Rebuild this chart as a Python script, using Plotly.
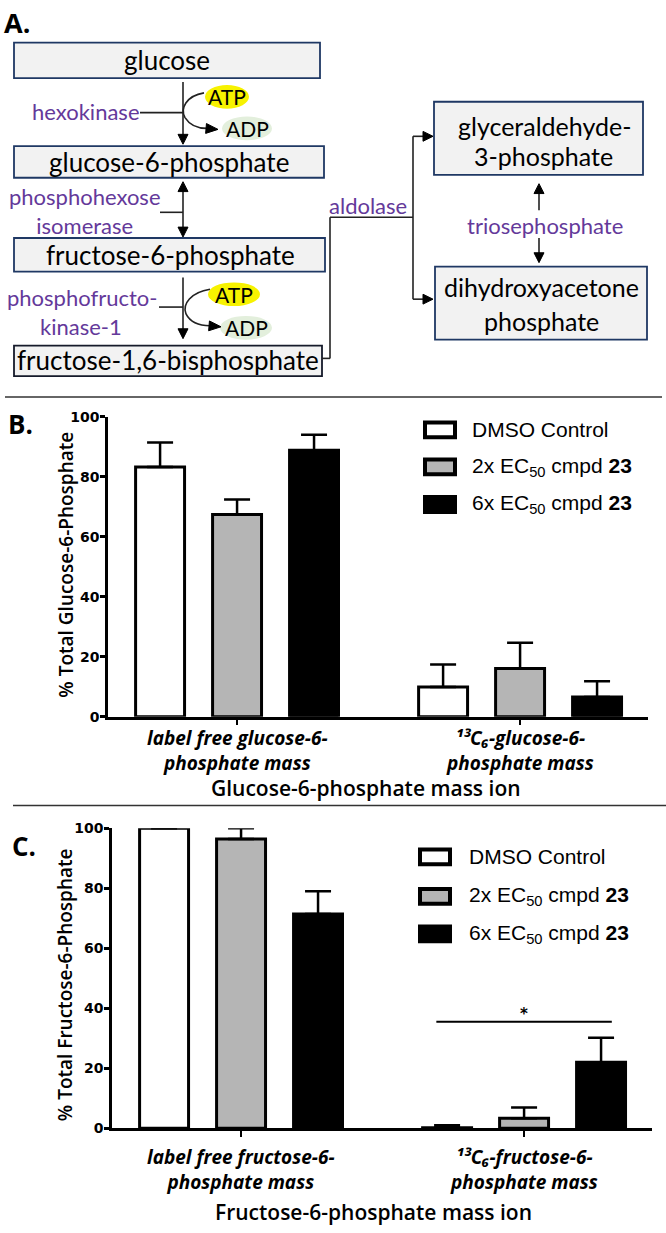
import math
import plotly.graph_objects as go

W, H = 666, 1233

# ---------------- data ----------------
series_names = ["DMSO Control", "2x EC50 cmpd 23", "6x EC50 cmpd 23"]
legend_text = ["DMSO Control",
               "2x EC<sub>50</sub> cmpd <b>23</b>",
               "6x EC<sub>50</sub> cmpd <b>23</b>"]
series_fill = ["#ffffff", "#b5b5b5", "#000000"]

mass_ions = ["label free", "13C6"]
g6p_labels = ["<b><i>label free glucose-6-<br>phosphate mass</i></b>",
              "<b><i>¹³C₆-glucose-6-<br>phosphate mass</i></b>"]
f6p_labels = ["<b><i>label free fructose-6-<br>phosphate mass</i></b>",
              "<b><i>¹³C₆-fructose-6-<br>phosphate mass</i></b>"]

g6p_dmso = [83.2, 9.9]
g6p_dmso_err = [8.2, 7.5]
g6p_2x = [67.4, 16.1]
g6p_2x_err = [5.0, 8.5]
g6p_6x = [88.8, 6.6]
g6p_6x_err = [5.2, 5.2]

f6p_dmso = [100.0, 0.2]
f6p_dmso_err = [0.0, 0.8]
f6p_2x = [96.4, 3.3]
f6p_2x_err = [3.6, 3.6]
f6p_6x = [71.4, 22.0]
f6p_6x_err = [7.6, 8.2]

y_ticks = [0, 20, 40, 60, 80, 100]
sig_level = 35.5
sig_text = "*"

g6p_ytitle = "% Total Glucose-6-Phosphate"
f6p_ytitle = "% Total Fructose-6-Phosphate"
g6p_xtitle = "Glucose-6-phosphate mass ion"
f6p_xtitle = "Fructose-6-phosphate mass ion"

# ---------------- figure ----------------
fig = go.Figure()

# invisible anchor trace for the pixel-space (diagram) axes
fig.add_trace(go.Scatter(x=[0], y=[0], mode="markers", marker=dict(opacity=0),
                         hoverinfo="skip", showlegend=False, xaxis="x", yaxis="y"))


def add_bars(vals_list, errs_list, xa, ya):
    for name, fill, vals, errs in zip(series_names, series_fill, vals_list, errs_list):
        fig.add_trace(go.Bar(
            x=mass_ions, y=vals, name=name,
            marker=dict(color=fill, line=dict(color="black", width=3)),
            error_y=dict(type="data", array=errs, arrayminus=[0] * len(errs),
                         symmetric=False, color="black", thickness=2.5, width=13),
            xaxis=xa, yaxis=ya, showlegend=False, cliponaxis=False))


add_bars([g6p_dmso, g6p_2x, g6p_6x], [g6p_dmso_err, g6p_2x_err, g6p_6x_err], "x2", "y2")
add_bars([f6p_dmso, f6p_2x, f6p_6x], [f6p_dmso_err, f6p_2x_err, f6p_6x_err], "x3", "y3")

shapes = []
annotations = []
LINE = "#222222"
PURPLE = "#64399a"
BOXLINE = "#1f3864"
DIAG_FONT = "Lato"
CHART_FONT = "Open Sans"
ARIAL = "Liberation Sans, Arial, sans-serif"


def seg(x0, y0, x1, y1, w=1.6, c=LINE):
    shapes.append(dict(type="line", xref="x", yref="y", x0=x0, y0=y0, x1=x1, y1=y1,
                       line=dict(color=c, width=w)))


def head(tx, ty, dx, dy, L=10, hw=5, c="black"):
    n = math.hypot(dx, dy)
    ux, uy = dx / n, dy / n
    bx, by = tx - ux * L, ty - uy * L
    px, py = -uy, ux
    path = (f"M {tx},{ty} L {bx + px * hw},{by + py * hw} "
            f"L {bx - px * hw},{by - py * hw} Z")
    shapes.append(dict(type="path", xref="x", yref="y", path=path,
                       fillcolor=c, line=dict(color=c, width=1)))


def curve(path, w=1.6):
    shapes.append(dict(type="path", xref="x", yref="y", path=path,
                       fillcolor="rgba(0,0,0,0)", line=dict(color=LINE, width=w)))


def box(x0, y0, x1, y1, bc=BOXLINE):
    shapes.append(dict(type="rect", xref="x", yref="y", x0=x0, y0=y0, x1=x1, y1=y1,
                       fillcolor="#f2f2f2", line=dict(color=bc, width=1.8)))


def ell(cx, cy, rx, ry, fill):
    shapes.append(dict(type="circle", xref="x", yref="y", x0=cx - rx, x1=cx + rx,
                       y0=cy - ry, y1=cy + ry, fillcolor=fill, line=dict(width=0)))


def txt(x, y, s, size, color="black", family=DIAG_FONT, xref="x", yref="y",
        xanchor="center", yanchor="middle", angle=0, weight="normal"):
    annotations.append(dict(x=x, y=y, xref=xref, yref=yref, text=s, showarrow=False,
                            xanchor=xanchor, yanchor=yanchor, textangle=angle,
                            font=dict(family=family, size=size, color=color, weight=weight)))


# ---------------- panel A : pathway diagram ----------------
box(14, 35, 320, 71)
txt(167, 53, "glucose", 26)
box(14, 140, 324, 172)
txt(169, 156, "glucose-6-phosphate", 26)
box(14, 233, 325, 267)
txt(170, 250, "fructose-6-phosphate", 26)
box(14, 342, 322, 373, bc="#151a2a")
txt(168, 357, "fructose-1,6-bisphosphate", 26)
box(434, 95, 643, 169)
txt(544, 120, "glyceraldehyde-", 25)
txt(543, 150, "3-phosphate", 25)
box(435, 262, 647, 336)
txt(541, 283, "dihydroxyacetone", 25)
txt(541, 317, "phosphate", 25)

# hexokinase step
seg(183, 75, 183, 129)
head(183, 138, 0, 1)
seg(140, 106, 183, 106)
txt(86, 105, "hexokinase", 22, PURPLE)
ell(227, 90, 22, 12, "#f7f200")
ell(247, 122, 25, 12, "#e3efdc")
curve("M 204,86 C 186,89 180,102 185,111 C 190,119 198,122 207,122")
head(218, 123, 1, 0.08, L=12, hw=5)
txt(227, 90, "ATP", 21)
txt(247, 122, "ADP", 21)

# phosphohexose isomerase step
seg(183, 185, 183, 223)
head(183, 176, 0, -1)
head(183, 232, 0, 1)
seg(160, 207, 183, 207)
txt(85, 206, "phosphohexose<br>isomerase", 22, PURPLE)

# phosphofructokinase-1 step
seg(183, 273, 183, 326)
head(183, 335, 0, 1)
seg(159, 303, 183, 303)
txt(82, 293, "phosphofructo-", 22, PURPLE)
txt(81, 323, "kinase-1", 22, PURPLE)
ell(234, 290, 26, 12, "#f7f200")
ell(246, 324, 26, 12, "#e3efdc")
curve("M 210,285 C 191,288 182,300 186,310 C 190,318 198,322 210,322")
head(221, 323, 1, 0.08, L=12, hw=5)
txt(234, 290, "ATP", 21)
txt(246, 324, "ADP", 21)

# aldolase step
seg(322, 355, 330, 355)
seg(330, 355, 330, 212)
seg(330, 212, 413, 212)
seg(413, 130, 413, 295)
seg(413, 130, 424, 130)
head(433, 130, 1, 0)
seg(413, 295, 424, 295)
head(433, 295, 1, 0)
txt(368, 200, "aldolase", 22, PURPLE)

# triosephosphate isomerase
seg(539, 187, 539, 205)
head(539, 178, 0, -1)
seg(539, 233, 539, 249)
head(539, 258, 0, 1)
txt(545, 220, "triosephosphate", 22, PURPLE)

# panel letters and separators
txt(17, 15, "A.", 27, family=CHART_FONT, weight="bold")
txt(20, 421, "B.", 26, family=CHART_FONT, weight="bold")
txt(24, 849, "C.", 26, family=CHART_FONT, weight="bold")
seg(5, 394, 662, 394, w=1.5, c="#333333")
seg(13, 808, 666, 808, w=1.5, c="#333333")


# ---------------- panels B/C : legends ----------------
def legend(x0, ys, tx):
    for yc, fill, lab in zip(ys, series_fill, legend_text):
        shapes.append(dict(type="rect", xref="x", yref="y", x0=x0 + 2, x1=x0 + 32,
                           y0=yc - 7.5, y1=yc + 7.5, fillcolor=fill,
                           line=dict(color="black", width=4)))
        txt(tx, yc, lab, 21, family=ARIAL, xanchor="left")


legend(423, [427.5, 465, 503], 470)
legend(418, [860, 900, 938], 467)

# ---------------- panels B/C : axis labels ----------------
for i, lab in enumerate(g6p_labels):
    txt(i, 724, lab, 19, family=CHART_FONT, xref="x2", yanchor="top")
for i, lab in enumerate(f6p_labels):
    txt(i, 1149, lab, 19, family=CHART_FONT, xref="x3", yanchor="top")
txt(366, 790, g6p_xtitle, 21, family=CHART_FONT, weight=600)
txt(373, 1220, f6p_xtitle, 21, family=CHART_FONT, weight=600)
txt(66, 564, g6p_ytitle, 19, family=CHART_FONT, angle=-90, weight=600)
txt(65, 990, f6p_ytitle, 19, family=CHART_FONT, angle=-90, weight=600)

# significance bracket in panel C
shapes.append(dict(type="line", xref="x3", yref="y3", x0=0.69, x1=1.31,
                   y0=sig_level, y1=sig_level, line=dict(color="black", width=2)))
annotations.append(dict(x=1, y=sig_level + 2.5, xref="x3", yref="y3", text=sig_text,
                        showarrow=False, yanchor="middle",
                        font=dict(family="DejaVu Sans", size=15, color="black",
                                  weight="bold")))

# ---------------- layout ----------------
xcat = dict(type="category", range=[-0.456, 1.452], showline=True, linecolor="black",
            linewidth=2.5, ticks="outside", ticklen=6, tickwidth=2, tickcolor="black",
            showticklabels=False, showgrid=False, zeroline=False, fixedrange=True)
ylin = dict(range=[0, 100], tickvals=y_ticks, showline=True, linecolor="black",
            linewidth=2.5, ticks="outside", ticklen=5, tickwidth=2.5, tickcolor="black",
            ticklabelstandoff=-2,
            tickfont=dict(family="DejaVu Sans", size=14, color="black", weight="bold"),
            showgrid=False, zeroline=False, fixedrange=True)

fig.update_layout(
    width=W, height=H, margin=dict(l=0, r=0, t=0, b=0),
    paper_bgcolor="white", plot_bgcolor="rgba(0,0,0,0)",
    barmode="group", bargap=0.184, bargroupgap=0.364,
    showlegend=False,
    xaxis=dict(domain=[0, 1], range=[0, W], visible=False, fixedrange=True),
    yaxis=dict(domain=[0, 1], range=[H, 0], visible=False, fixedrange=True),
    xaxis2=dict(xcat, domain=[108 / W, 648 / W], anchor="y2"),
    yaxis2=dict(ylin, domain=[1 - 718 / H, 1 - 414 / H], anchor="x2"),
    xaxis3=dict(xcat, domain=[112 / W, 652 / W], anchor="y3"),
    yaxis3=dict(ylin, domain=[1 - 1135 / H, 1 - 831 / H], anchor="x3"),
    shapes=shapes,
    annotations=annotations,
)

fig.write_html("out.html", config={"displayModeBar": False},
               post_script="document.body.style.margin='0px';")
